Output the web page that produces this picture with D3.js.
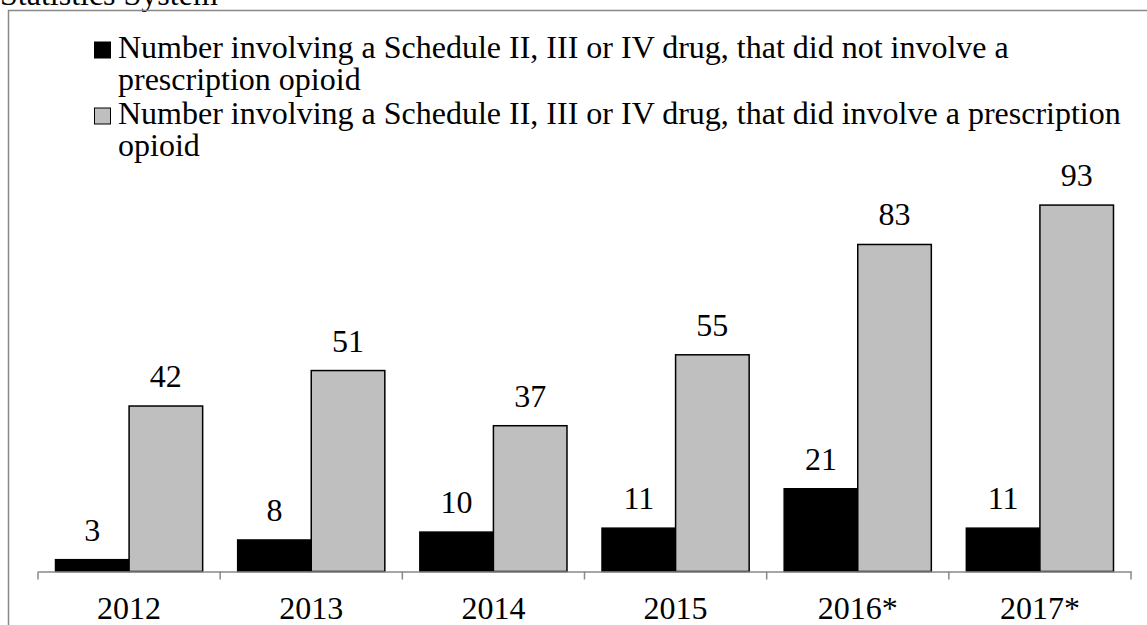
<!DOCTYPE html>
<html>
<head>
<meta charset="utf-8">
<script src="https://cdn.jsdelivr.net/npm/d3@7"></script>
<style>
  html, body { margin: 0; padding: 0; background: #fff; }
  svg { display: block; }
  text { font-family: "Liberation Serif", "Times New Roman", serif; fill: #000; }
</style>
</head>
<body>
<svg id="chart" width="1147" height="625"></svg>
<script>
const categories = ["2012", "2013", "2014", "2015", "2016*", "2017*"];
const seriesNames = [
  "Number involving a Schedule II, III or IV drug, that did not involve a prescription opioid",
  "Number involving a Schedule II, III or IV drug, that did involve a prescription opioid"
];
const legendLines = [
  ["Number involving a Schedule II, III or IV drug, that did not involve a", "prescription opioid"],
  ["Number involving a Schedule II, III or IV drug, that did involve a prescription", "opioid"]
];
const notOpioid = [3, 8, 10, 11, 21, 11];
const withOpioid = [42, 51, 37, 55, 83, 93];
const seriesValues = [notOpioid, withOpioid];
const seriesColors = ["#000000", "#bfbfbf"];

const svg = d3.select("#chart");
const fs = 32;

// clipped title line above the frame
svg.append("text").attr("x", 0).attr("y", 5).style("font-size", fs + "px").text("Statistics System");

// frame
svg.append("path")
  .attr("d", "M8.5,625 L8.5,10.5 L1147,10.5")
  .attr("fill", "none").attr("stroke", "#888").attr("stroke-width", 1.5);

const baseY = 571.5;
const y = d3.scaleLinear().domain([0, 100]).range([baseY, 177.5]);
const x = d3.scaleBand().domain(categories).range([38, 1131]).paddingInner(0).paddingOuter(0);
const xs = d3.scaleBand().domain(d3.range(seriesNames.length)).range([0, x.bandwidth()]).paddingInner(0).paddingOuter(0.238);

// bars
const groups = svg.append("g").selectAll("g").data(categories).join("g")
  .attr("transform", d => `translate(${x(d)},0)`);

groups.selectAll("rect").data((d, i) => seriesValues.map((s, k) => ({k, v: s[i]})))
  .join("rect")
  .attr("x", d => xs(d.k))
  .attr("width", xs.bandwidth())
  .attr("y", d => y(d.v))
  .attr("height", d => baseY - y(d.v))
  .attr("fill", d => seriesColors[d.k])
  .attr("stroke", "#000").attr("stroke-width", 1.5);

groups.selectAll("text").data((d, i) => seriesValues.map((s, k) => ({k, v: s[i]})))
  .join("text")
  .attr("x", d => xs(d.k) + xs.bandwidth() / 2)
  .attr("y", d => y(d.v) - 19)
  .attr("text-anchor", "middle")
  .style("font-size", fs + "px")
  .text(d => d.v);

// axis
const axis = svg.append("g").attr("transform", `translate(0,${baseY})`)
  .call(d3.axisBottom(x).tickSize(0).tickPadding(0));
axis.select(".domain").attr("stroke", "#888").attr("stroke-width", 1.5);
axis.selectAll(".tick text")
  .attr("y", 47).attr("dy", null)
  .style("font-size", fs + "px")
  .style("font-family", '"Liberation Serif", "Times New Roman", serif')
  .attr("fill", "#000");

const bounds = categories.map(c => x(c)).concat([x(categories[categories.length - 1]) + x.bandwidth()]);
svg.append("g").selectAll("line").data(bounds).join("line")
  .attr("x1", d => d).attr("x2", d => d)
  .attr("y1", baseY).attr("y2", baseY + 8)
  .attr("stroke", "#888").attr("stroke-width", 1.5);

// legend
const legend = svg.append("g");
legendLines.forEach((lines, i) => {
  const by = 58 + i * 66;
  legend.append("rect")
    .attr("x", 94.5).attr("y", by - 16)
    .attr("width", 16).attr("height", 16)
    .attr("fill", seriesColors[i]).attr("stroke", "#000").attr("stroke-width", 1);
  const t = legend.append("text").attr("x", 118).attr("y", by).style("font-size", fs + "px");
  lines.forEach((ln, j) => {
    t.append("tspan").attr("x", 118).attr("y", by + j * 32).text(ln);
  });
});
</script>
</body>
</html>
